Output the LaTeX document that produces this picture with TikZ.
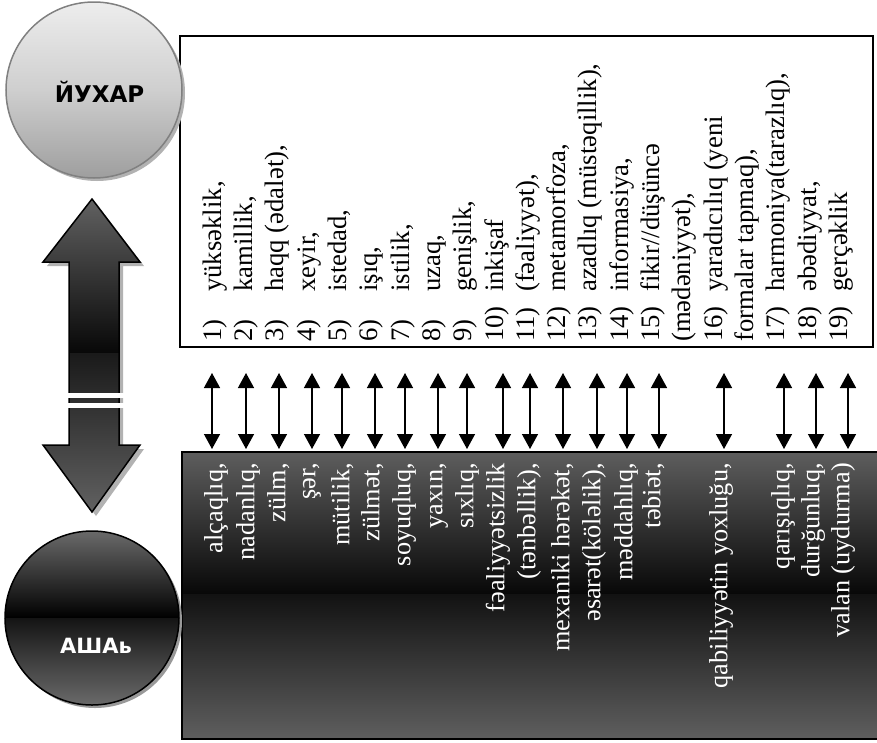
\documentclass[tikz,border=0pt]{standalone}
\usepackage{fontspec}
\setmainfont{Liberation Serif}
\newfontfamily\lblfont{DejaVu Sans}
\usetikzlibrary{arrows.meta}
\definecolor{dk}{HTML}{5E5E5E}
\begin{document}
\begin{tikzpicture}[x=1pt,y=-1pt,
 toptxt/.style={rotate=90,anchor=mid west,inner sep=0pt,font=\fontsize{26.7}{28}\selectfont},
 bottxt/.style={rotate=90,anchor=mid east,inner sep=0pt,text=white,font=\fontsize{26.3}{27}\selectfont},
 link/.style={line width=1.4pt,{Triangle[width=16pt,length=15pt]}-{Triangle[width=16pt,length=15pt]}},
 frame/.style={draw=black,line width=1.8pt,inner sep=0pt,anchor=north west}
]
\useasboundingbox (0,0) rectangle (877,742);
\fill[white] (0,0) rectangle (877,742);

% top box
\node[frame, minimum width=693pt, minimum height=311pt] (topbox) at (179,35) {};

% bottom box
\begin{scope}
\clip (181,451) rectangle (880,738);
\shade[top color=dk, bottom color=black!97] (181,451) rectangle (880,594);
\shade[top color=black!93, bottom color=dk] (181,594) rectangle (880,738);
\end{scope}
\node[frame, line width=2pt, minimum width=699pt, minimum height=287pt] (botbox) at (181,451) {};

% small double arrows
\foreach \x [count=\i] in {212,246,279,312,342,375,405,438,467,503,530,563,597,627,659,724,784,816,848}{
  \coordinate (lt\i) at (\x,373);
  \coordinate (lb\i) at (\x,449);
  \draw[link] (lt\i) -- (lb\i);
}

% top circle
\fill[black!30] (97,93) circle (88);
\node[circle, draw=black!50, line width=1.5pt, minimum size=176pt, inner sep=0pt,
  top color=black!7, bottom color=black!38, middle color=black!19] (up) at (94,90) {};
\node[font=\lblfont\bfseries\fontsize{23}{23}\selectfont, inner sep=0pt] (uplbl) at (99.5,92) {ЙУХАР};

% bottom circle
\fill[black!40] (95,621) circle (87);
\begin{scope}
\clip (92,618) circle (87);
\shade[top color=black!58, bottom color=black] (0,530) rectangle (182,618);
\shade[top color=black!92, bottom color=black!58] (0,618) rectangle (182,706);
\end{scope}
\node[circle, draw=black, line width=1.5pt, minimum size=174pt, inner sep=0pt] (down) at (92,618) {};
\node[text=white, font=\lblfont\bfseries\fontsize{21}{21}\selectfont, inner sep=0pt] (downlbl) at (96,646) {АШАь};

% big double arrow
\fill[black!30, shift={(4,4)}] (92,199) -- (140,262) -- (119,262) -- (119,445) -- (140,445) -- (92,512) -- (43,445) -- (69,445) -- (69,262) -- (43,262) -- cycle;
\begin{scope}
\clip (92,199) -- (140,262) -- (119,262) -- (119,445) -- (140,445) -- (92,512) -- (43,445) -- (69,445) -- (69,262) -- (43,262) -- cycle;
\shade[top color=black!62, bottom color=black!97] (40,199) rectangle (145,353);
\shade[top color=black!90, bottom color=black!62] (40,353) rectangle (145,512);
\end{scope}
\draw[black, line width=1.5pt, line join=miter] (92,199) -- (140,262) -- (119,262) -- (119,445) -- (140,445) -- (92,512) -- (43,445) -- (69,445) -- (69,262) -- (43,262) -- cycle;
\fill[white] (65,393) rectangle (124,397.5);
\fill[white] (65,403) rectangle (124,408);

% top list
\node[toptxt] (n1) at (219,342) {1)};        \node[toptxt] (t1) at (219,292) {yüksəklik,};
\node[toptxt] (n2) at (250.3,342) {2)};      \node[toptxt] (t2) at (250.3,292) {kamillik,};
\node[toptxt] (n3) at (281.6,342) {3)};      \node[toptxt] (t3) at (281.6,292) {haqq (ədalət),};
\node[toptxt] (n4) at (312.9,342) {4)};      \node[toptxt] (t4) at (312.9,292) {xeyir,};
\node[toptxt] (n5) at (344.2,342) {5)};      \node[toptxt] (t5) at (344.2,292) {istedad,};
\node[toptxt] (n6) at (375.5,342) {6)};      \node[toptxt] (t6) at (375.5,292) {işıq,};
\node[toptxt] (n7) at (406.8,342) {7)};      \node[toptxt] (t7) at (406.8,292) {istilik,};
\node[toptxt] (n8) at (438.1,342) {8)};      \node[toptxt] (t8) at (438.1,292) {uzaq,};
\node[toptxt] (n9) at (469.4,342) {9)};      \node[toptxt] (t9) at (469.4,292) {genişlik,};
\node[toptxt] (n10) at (500.7,342) {10)};    \node[toptxt] (t10) at (500.7,292) {inkişaf};
\node[toptxt] (n11) at (532,342) {11)};      \node[toptxt] (t11) at (532,292) {(fəaliyyət),};
\node[toptxt] (n12) at (563.3,342) {12)};    \node[toptxt] (t12) at (563.3,292) {metamorfoza,};
\node[toptxt] (n13) at (594.6,342) {13)};    \node[toptxt] (t13) at (594.6,292) {azadlıq (müstəqillik),};
\node[toptxt] (n14) at (625.9,342) {14)};    \node[toptxt] (t14) at (625.9,292) {informasiya,};
\node[toptxt] (n15) at (657.2,342) {15)};    \node[toptxt] (t15) at (657.2,292) {fikir//düşüncə};
\node[toptxt] (c15) at (688.5,342) {(mədəniyyət),};
\node[toptxt] (n16) at (719.8,342) {16)};    \node[toptxt] (t16) at (719.8,292) {yaradıcılıq (yeni};
\node[toptxt] (c16) at (751.1,342) {formalar tapmaq),};
\node[toptxt] (n17) at (782.4,342) {17)};    \node[toptxt] (t17) at (782.4,292) {harmoniya(tarazlıq),};
\node[toptxt] (n18) at (813.7,342) {18)};    \node[toptxt] (t18) at (813.7,292) {əbədiyyat,};
\node[toptxt] (n19) at (845,342) {19)};      \node[toptxt] (t19) at (845,292) {gerçəklik};

% bottom list
\node[bottxt] (b1) at (220,463) {alçaqlıq,};
\node[bottxt] (b2) at (252,463) {nadanlıq,};
\node[bottxt] (b3) at (283,463) {zülm,};
\node[bottxt] (b4) at (313,463) {şər,};
\node[bottxt] (b5) at (347,463) {mütilik,};
\node[bottxt] (b6) at (377,463) {zülmət,};
\node[bottxt] (b7) at (408,463) {soyuqluq,};
\node[bottxt] (b8) at (440,463) {yaxın,};
\node[bottxt] (b9) at (471,463) {sıxlıq,};
\node[bottxt] (b10) at (502,463) {fəaliyyətsizlik};
\node[bottxt] (b11) at (533,463) {(tənbəllik),};
\node[bottxt] (b12) at (567,463) {mexaniki hərəkət,};
\node[bottxt] (b13) at (598,463) {əsarət(köləlik),};
\node[bottxt] (b14) at (630,463) {məddahlıq,};
\node[bottxt] (b15) at (658,463) {təbiət,};
\node[bottxt] (b16) at (725,463) {qabiliyyətin yoxluğu,};
\node[bottxt] (b17) at (787,463) {qarışıqlıq,};
\node[bottxt] (b18) at (817,463) {durğunluq,};
\node[bottxt] (b19) at (847,463) {valan (uydurma)};
\end{tikzpicture}
\end{document}
